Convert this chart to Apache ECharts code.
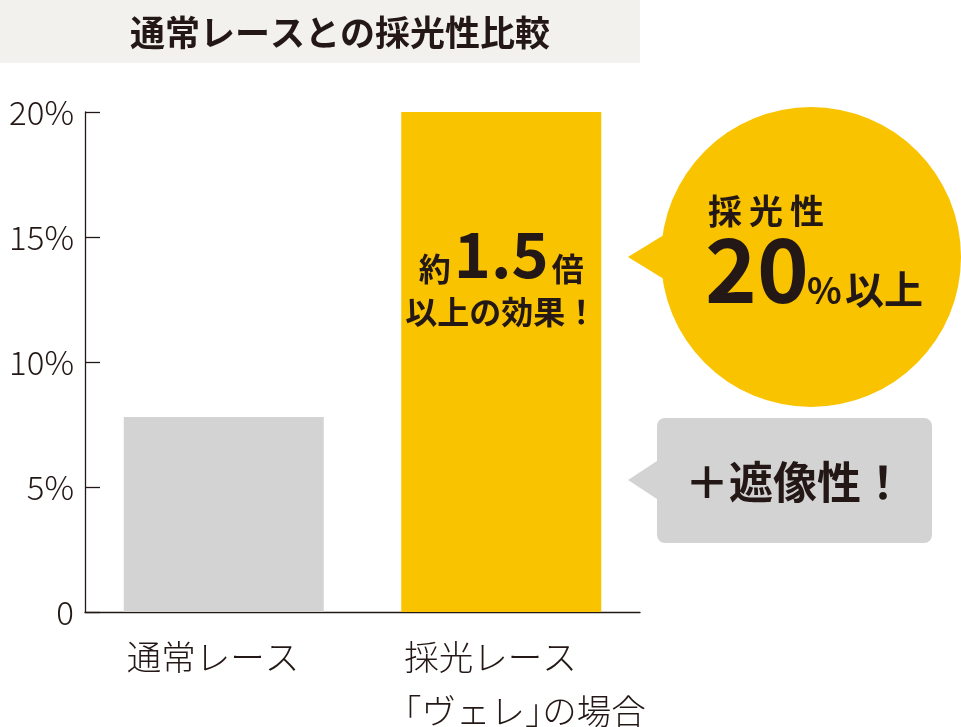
<!DOCTYPE html>
<html>
<head>
<meta charset="utf-8">
<script src="https://cdn.jsdelivr.net/npm/echarts@6/dist/echarts.min.js"></script>
<style>
html,body{margin:0;padding:0;background:#fff;}
#c{width:961px;height:727px;}
</style>
</head>
<body>
<div id="c"></div>
<script>
var titleText = '通常レースとの採光性比較';
var categories = ['通常レース', '採光レース\n「ヴェレ」の場合'];
var values = [7.8, 20.05];
var barColors = ['#d3d3d3', '#f9c300'];
var yTicks = [0, 5, 10, 15, 20];
var barNote = ['約', '1.5', '倍', '以上の効果！'];
var bubbleChars = ['採', '光', '性'];
var bubbleMain = ['20', '%', '以上'];
var grayNote = '＋遮像性！';

var FONT = '"Noto Sans CJK JP", "Noto Sans", sans-serif';
var INK = '#231815';
var LABEL_SIZE = 34.5;

var chart = echarts.init(document.getElementById('c'));

var option = {
  animation: false,
  backgroundColor: '#ffffff',
  grid: { left: 85, right: 321, top: 112, bottom: 115, containLabel: false },
  xAxis: {
    type: 'category',
    data: categories,
    axisLine: { lineStyle: { color: INK, width: 1.3 } },
    axisTick: { inside: true, length: 12, lineStyle: { color: INK, width: 1.3 } },
    axisLabel: { show: false },
    splitLine: { show: false }
  },
  yAxis: {
    type: 'value',
    min: yTicks[0],
    max: yTicks[yTicks.length - 1],
    interval: 5,
    axisLine: { show: true, lineStyle: { color: INK, width: 1.3 } },
    axisTick: { show: true, inside: true, length: 15, lineStyle: { color: INK, width: 1.3 } },
    splitLine: { show: false },
    axisLabel: {
      margin: 11,
      color: INK,
      fontFamily: FONT,
      fontSize: 33,
      fontWeight: 300,
      formatter: function (v) { return v === 0 ? '0' : v + '%'; }
    }
  },
  series: [{
    type: 'bar',
    barWidth: 200,
    data: values.map(function (v, i) {
      var d = { value: v, itemStyle: { color: barColors[i] } };
      if (i === 1) {
        d.label = {
          show: true,
          position: ['50%', 112],
          align: 'center',
          verticalAlign: 'top',
          formatter: '{s|' + barNote[0] + '}{b|' + barNote[1] + '}{s|' + barNote[2] + '}\n{m|' + barNote[3] + '}',
          rich: {
            s: { fontFamily: FONT, fontWeight: 'bold', fontSize: 32, color: INK, lineHeight: 62, verticalAlign: 'bottom', padding: [0, 0, 1, 0] },
            b: { fontFamily: FONT, fontWeight: 'bold', fontSize: 63, color: INK, lineHeight: 62, verticalAlign: 'bottom', padding: [0, 3, 0, 3] },
            m: { fontFamily: FONT, fontWeight: 'bold', fontSize: 32, color: INK, lineHeight: 52 }
          }
        };
      }
      return d;
    })
  }],
  graphic: []
};
chart.setOption(option);

var g = [];
// title banner
g.push({ type: 'rect', shape: { x: 0, y: 0, width: 640, height: 63 }, style: { fill: '#f2f1ee' }, z: 1 });
g.push({ type: 'text', x: 340, y: 33, z: 2, style: { text: titleText, fill: INK, font: 'bold 35px ' + FONT, textAlign: 'center', textVerticalAlign: 'middle' } });

// x labels, left aligned; brackets drawn half-width (proportional) like the reference
function labelText(str, x, y) {
  g.push({ type: 'text', x: x, y: y, z: 2,
    style: { text: str, fill: INK, font: '300 ' + LABEL_SIZE + 'px ' + FONT, textAlign: 'left', textVerticalAlign: 'middle' } });
}
categories.forEach(function (c, i) {
  var cx = chart.convertToPixel({ xAxisIndex: 0 }, i);
  var left = cx - 97;
  var lines = c.split('\n');
  lines.forEach(function (ln, j) {
    var y = 657 + j * 54;
    var close = ln.indexOf('」');
    if (ln.charAt(0) === '「' && close > 0) {
      var head = ln.slice(0, close + 1);
      var tail = ln.slice(close + 1);
      labelText(head, left - LABEL_SIZE * 0.5, y);
      labelText(tail, left - LABEL_SIZE * 0.5 + head.length * LABEL_SIZE - LABEL_SIZE * 0.5, y);
    } else {
      labelText(ln, left, y);
    }
  });
});

// yellow bubble
g.push({ type: 'circle', shape: { cx: 811, cy: 257, r: 150 }, style: { fill: barColors[1] }, z: 1 });
g.push({ type: 'polygon', shape: { points: [[628, 257], [672, 230], [672, 284]] }, style: { fill: barColors[1] }, z: 1 });
bubbleChars.forEach(function (ch, i) {
  g.push({ type: 'text', x: 708 + i * 41, y: 211, z: 2, style: { text: ch, fill: INK, font: 'bold 34px ' + FONT, textAlign: 'left', textVerticalAlign: 'middle' } });
});
g.push({ type: 'text', x: 705, y: 270, z: 2, style: { text: bubbleMain[0], fill: INK, font: 'bold 88px ' + FONT, textAlign: 'left', textVerticalAlign: 'middle' } });
g.push({ type: 'text', x: 807, y: 290, z: 2, style: { text: bubbleMain[1], fill: INK, font: 'bold 36px ' + FONT, textAlign: 'left', textVerticalAlign: 'middle' } });
g.push({ type: 'text', x: 845, y: 289, z: 2, style: { text: bubbleMain[2], fill: INK, font: 'bold 39px ' + FONT, textAlign: 'left', textVerticalAlign: 'middle' } });

// gray bubble
g.push({ type: 'rect', shape: { x: 657, y: 418, width: 275, height: 125, r: 8 }, style: { fill: '#d3d3d3' }, z: 1 });
g.push({ type: 'polygon', shape: { points: [[628, 480], [660, 459], [660, 501]] }, style: { fill: '#d3d3d3' }, z: 1 });
g.push({ type: 'text', x: 795, y: 482, z: 2, style: { text: grayNote, fill: INK, font: 'bold 44px ' + FONT, textAlign: 'center', textVerticalAlign: 'middle' } });

chart.setOption({ graphic: g });
</script>
</body>
</html>
